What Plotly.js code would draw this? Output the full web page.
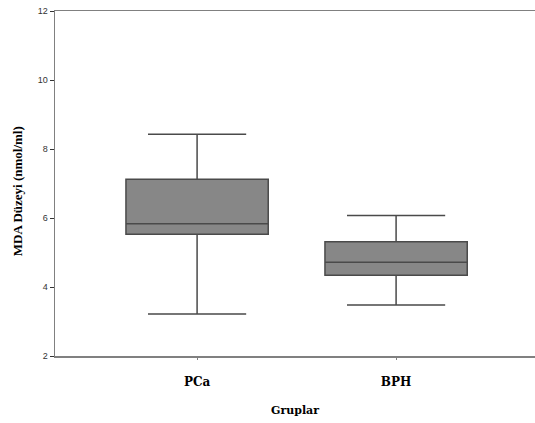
<!DOCTYPE html>
<html>
<head>
<meta charset="utf-8">
<script src="https://cdn.plot.ly/plotly-3.0.1.min.js"></script>
<style>html,body{margin:0;padding:0;background:#fff;}#chart{width:535px;height:423px;}</style>
</head>
<body>
<div id="chart"></div>
<script>
var categories = ['PCa', 'BPH'];
var lowerWhisker = [3.22, 3.48];
var q1Values = [5.53, 4.34];
var medianValues = [5.83, 4.72];
var q3Values = [7.12, 5.31];
var upperWhisker = [8.43, 6.07];
var yTickValues = [2, 4, 6, 8, 10, 12];

var trace = {
  type: 'box',
  x: categories,
  q1: q1Values,
  median: medianValues,
  q3: q3Values,
  lowerfence: lowerWhisker,
  upperfence: upperWhisker,
  width: 0.715,
  whiskerwidth: 0.69,
  fillcolor: '#878787',
  line: {color: '#4a4a4a', width: 1.5},
  boxpoints: false,
  hoverinfo: 'skip',
  showlegend: false
};

var layout = {
  width: 535,
  height: 423,
  margin: {l: 55, r: 0, t: 11, b: 67},
  paper_bgcolor: '#ffffff',
  plot_bgcolor: '#ffffff',
  showlegend: false,
  xaxis: {
    type: 'category',
    range: [-0.714, 1.698],
    showgrid: false,
    zeroline: false,
    showline: true,
    linecolor: '#808080',
    linewidth: 1.5,
    mirror: true,
    ticks: 'outside',
    ticklen: 2,
    tickcolor: '#808080',
    ticklabelstandoff: 12,
    tickfont: {family: 'DejaVu Serif', size: 12, color: '#000000', weight: 'bold'},
    title: {text: 'Gruplar', standoff: 18, font: {family: 'DejaVu Serif', size: 11, color: '#000000', weight: 'bold'}}
  },
  yaxis: {
    range: [2, 12],
    tickvals: yTickValues,
    ticktext: yTickValues.map(String),
    showgrid: false,
    zeroline: false,
    showline: true,
    linecolor: '#808080',
    linewidth: 1.5,
    ticks: 'outside',
    ticklen: 4,
    tickcolor: '#333333',
    tickfont: {family: 'Liberation Sans', size: 9, color: '#333333'}
  },
  annotations: [{
    text: 'MDA Düzeyi (nmol/ml)',
    xref: 'paper', yref: 'paper',
    x: -0.079, y: 0.478,
    xanchor: 'center', yanchor: 'middle',
    textangle: -90,
    showarrow: false,
    font: {family: 'Liberation Serif', size: 13, color: '#000000', weight: 'bold'}
  }]
};

Plotly.newPlot('chart', [trace], layout, {displayModeBar: false, staticPlot: true});
</script>
</body>
</html>
